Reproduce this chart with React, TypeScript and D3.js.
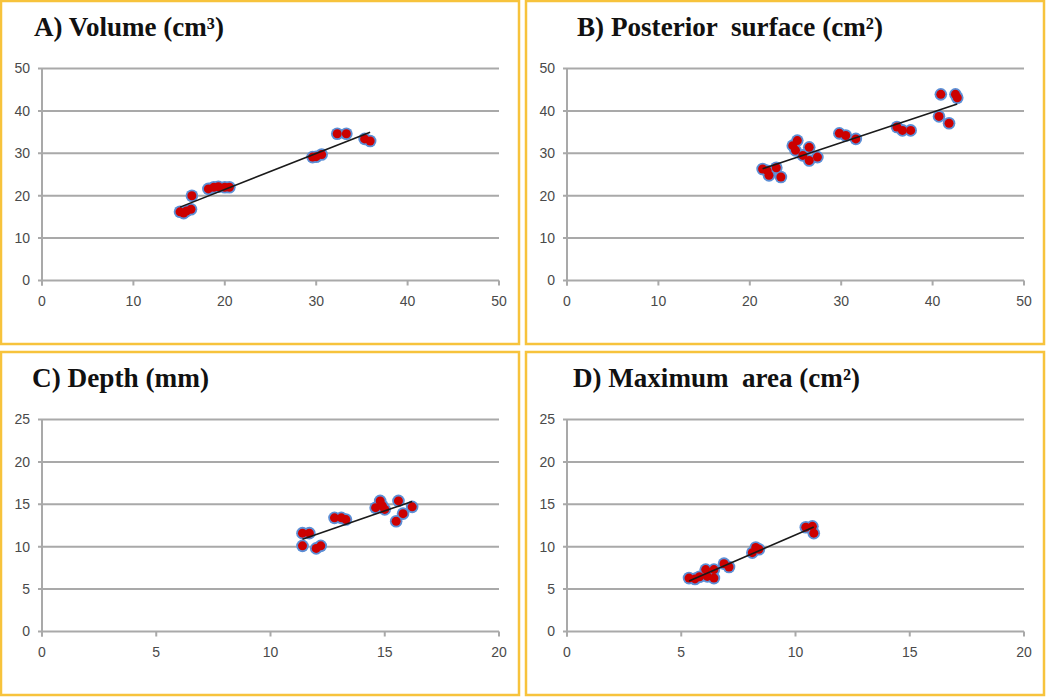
import React from "react";
import * as d3 from "d3";

// ---- Data ----
const volumeX = [15.1, 15.5, 15.8, 16.3, 16.4, 18.2, 18.8, 19.3, 20.0, 20.5, 29.6, 30.0, 30.6, 32.3, 33.3, 35.3, 35.9];
const volumeY = [16.2, 15.9, 16.4, 16.8, 20.0, 21.6, 22.0, 22.1, 22.0, 22.0, 29.1, 29.2, 29.7, 34.6, 34.6, 33.4, 32.9];

const surfaceX = [21.4, 21.9, 22.1, 22.9, 23.4, 24.7, 25.2, 25.0, 25.8, 26.5, 26.5, 27.4, 29.8, 30.5, 31.6, 36.1, 36.7, 37.6, 40.7, 40.9, 41.8, 42.5, 42.7];
const surfaceY = [26.3, 25.9, 24.8, 26.6, 24.4, 31.8, 33.0, 30.7, 29.5, 31.4, 28.3, 29.1, 34.7, 34.2, 33.4, 36.2, 35.4, 35.4, 38.7, 43.9, 37.1, 43.9, 43.1];

const depthX = [11.4, 11.4, 11.7, 12.0, 12.2, 12.8, 13.1, 13.3, 14.6, 14.8, 14.9, 15.0, 15.5, 15.6, 15.8, 16.2];
const depthY = [10.1, 11.6, 11.6, 9.8, 10.1, 13.4, 13.4, 13.2, 14.6, 15.4, 14.8, 14.4, 13.0, 15.4, 13.9, 14.7];

const areaX = [5.34, 5.6, 5.8, 6.07, 6.14, 6.43, 6.43, 6.87, 7.09, 8.11, 8.26, 8.4, 10.45, 10.74, 10.8];
const areaY = [6.3, 6.2, 6.45, 7.3, 6.5, 6.3, 7.3, 8.0, 7.6, 9.3, 9.9, 9.7, 12.3, 12.4, 11.6];

const ticks50 = [0, 10, 20, 30, 40, 50];
const xTicks20 = [0, 5, 10, 15, 20];
const yTicks25 = [0, 5, 10, 15, 20, 25];

const titles = ["A) Volume (cm\u00B3)", "B) Posterior  surface (cm\u00B2)", "C) Depth (mm)", "D) Maximum  area (cm\u00B2)"];

// ---- Layout ----
const W = 1050;
const H = 699;
const BOX_W = 518;
const BOX_H = 343;
const boxes = [
  { x: 1, y: 1, titleX: 33, titleW: 190 },
  { x: 526, y: 1, titleX: 51, titleW: 306 },
  { x: 1, y: 352, titleX: 31, titleW: 177 },
  { x: 526, y: 352, titleX: 47, titleW: 287 },
];
const PLOT_L = 41;
const PLOT_R = 498;
const PLOT_T = 67.5;
const PLOT_B = 279.5;

const GRID = "#a9a9a9";
const LABEL = "#4a4a4a";

function linreg(xs: number[], ys: number[]) {
  const mx = d3.mean(xs) as number;
  const my = d3.mean(ys) as number;
  let sxy = 0;
  let sxx = 0;
  xs.forEach((x, i) => {
    sxy += (x - mx) * (ys[i] - my);
    sxx += (x - mx) * (x - mx);
  });
  const b = sxy / sxx;
  return { b, a: my - b * mx };
}

function Panel({ idx, xs, ys, xTicks, yTicks }: { idx: number; xs: number[]; ys: number[]; xTicks: number[]; yTicks: number[] }) {
  const box = boxes[idx];
  const x = d3.scaleLinear().domain([0, xTicks[xTicks.length - 1]]).range([PLOT_L, PLOT_R]);
  const y = d3.scaleLinear().domain([0, yTicks[yTicks.length - 1]]).range([PLOT_B, PLOT_T]);
  const { a, b } = linreg(xs, ys);
  const [x0, x1] = d3.extent(xs) as [number, number];
  const line = d3.line<number>().x((v) => x(v)).y((v) => y(a + b * v));
  return (
    <g transform={`translate(${box.x},${box.y})`}>
      <rect x={0} y={0} width={BOX_W} height={BOX_H} fill="#fff" stroke="#f7c33c" strokeWidth={2.5} />
      <text
        x={box.titleX}
        y={35}
        fontFamily="'Liberation Serif', 'DejaVu Serif', serif"
        fontWeight="bold"
        fontSize={27}
        fill="#111"
        textLength={box.titleW}
        lengthAdjust="spacingAndGlyphs"
        style={{ whiteSpace: "pre" }}
      >
        {titles[idx]}
      </text>
      {/* horizontal gridlines */}
      {yTicks.map((t) => (
        <line key={"g" + t} x1={PLOT_L - 4} x2={PLOT_R} y1={y(t)} y2={y(t)} stroke={GRID} strokeWidth={2} />
      ))}
      {/* y axis */}
      <line x1={PLOT_L} x2={PLOT_L} y1={PLOT_T} y2={PLOT_B + 5} stroke={GRID} strokeWidth={2} />
      {/* x ticks */}
      {xTicks.map((t) => (
        <line key={"xt" + t} x1={x(t)} x2={x(t)} y1={PLOT_B} y2={PLOT_B + 5} stroke={GRID} strokeWidth={2} />
      ))}
      {yTicks.map((t) => (
        <text
          key={"yl" + t}
          x={PLOT_L - 12}
          y={y(t)}
          dy="0.35em"
          textAnchor="end"
          fontFamily="'Liberation Sans', Arial, sans-serif"
          fontSize={14}
          fill={LABEL}
        >
          {t}
        </text>
      ))}
      {xTicks.map((t) => (
        <text
          key={"xl" + t}
          x={x(t)}
          y={PLOT_B + 21}
          dy="0.35em"
          textAnchor="middle"
          fontFamily="'Liberation Sans', Arial, sans-serif"
          fontSize={14}
          fill={LABEL}
        >
          {t}
        </text>
      ))}
      {/* points */}
      <g filter="url(#soft)">
        {xs.map((v, i) => (
          <circle key={"h" + i} cx={x(v)} cy={y(ys[i])} r={6.3} fill="#5b8fd6" />
        ))}
      </g>
      {xs.map((v, i) => (
        <circle key={"p" + i} cx={x(v)} cy={y(ys[i])} r={4.5} fill="#cc0000" />
      ))}
      {/* trend line */}
      <path d={line([x0, x1]) || ""} stroke="#1a1a1a" strokeWidth={1.6} fill="none" />
    </g>
  );
}

export default function App() {
  return (
    <svg
      width={W}
      height={H}
      viewBox={`0 0 ${W} ${H}`}
      style={{ position: "absolute", left: 0, top: 0, background: "#fff" }}
    >
      <defs>
        <filter id="soft" x="-20%" y="-20%" width="140%" height="140%">
          <feGaussianBlur stdDeviation={0.7} />
        </filter>
      </defs>
      <rect x={0} y={0} width={W} height={H} fill="#fff" />
      <Panel idx={0} xs={volumeX} ys={volumeY} xTicks={ticks50} yTicks={ticks50} />
      <Panel idx={1} xs={surfaceX} ys={surfaceY} xTicks={ticks50} yTicks={ticks50} />
      <Panel idx={2} xs={depthX} ys={depthY} xTicks={xTicks20} yTicks={yTicks25} />
      <Panel idx={3} xs={areaX} ys={areaY} xTicks={xTicks20} yTicks={yTicks25} />
    </svg>
  );
}
